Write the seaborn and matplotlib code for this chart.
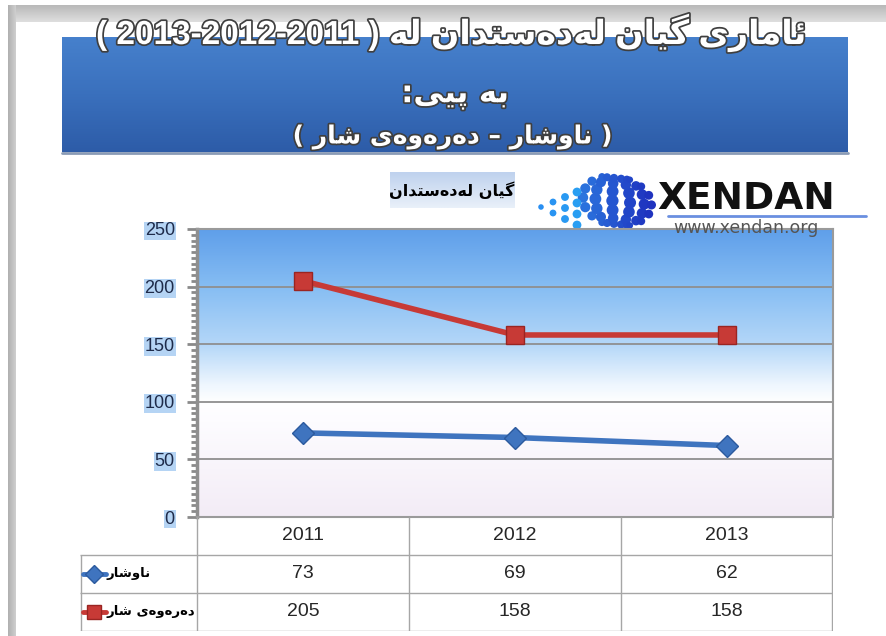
import numpy as np
import pandas as pd
import seaborn as sns
import matplotlib.pyplot as plt
from matplotlib import patheffects as pe
from matplotlib.colors import LinearSegmentedColormap
from matplotlib.ticker import MultipleLocator

# data
years = ['2011', '2012', '2013']
inside_city = [73, 69, 62]          # ناوشار
outside_city = [205, 158, 158]      # دەرەوەی شار
series_names = ['ناوشار', 'دەرەوەی شار']
series_colors = ['#3f74bf', '#c73a36']
series_edges = ['#2c5a9e', '#9a2522']
series_markers = ['D', 's']
y_ticks = [0, 50, 100, 150, 200, 250]

title_text = 'ئاماری گیان لەدەستدان لە'
title_years = '( 2013-2012-2011 )'
title_line2 = 'بە پێی:'
title_line3 = 'ناوشار – دەرەوەی شار'
subtitle = 'گیان لەدەستدان'

# matplotlib has no arabic shaping, so pick presentation forms by hand
# (isolated, final, initial, medial)
FORMS = {
    'ئ': ('\ufe89', '\ufe8a', '\ufe8b', '\ufe8c'),
    'ا': ('\ufe8d', '\ufe8e', None, None),
    'ب': ('\ufe8f', '\ufe90', '\ufe91', '\ufe92'),
    'پ': ('\ufb56', '\ufb57', '\ufb58', '\ufb59'),
    'ت': ('\ufe95', '\ufe96', '\ufe97', '\ufe98'),
    'د': ('\ufea9', '\ufeaa', None, None),
    'ر': ('\ufead', '\ufeae', None, None),
    'س': ('\ufeb1', '\ufeb2', '\ufeb3', '\ufeb4'),
    'ش': ('\ufeb5', '\ufeb6', '\ufeb7', '\ufeb8'),
    'گ': ('\ufb92', '\ufb93', '\ufb94', '\ufb95'),
    'ل': ('\ufedd', '\ufede', '\ufedf', '\ufee0'),
    'م': ('\ufee1', '\ufee2', '\ufee3', '\ufee4'),
    'ن': ('\ufee5', '\ufee6', '\ufee7', '\ufee8'),
    'و': ('\ufeed', '\ufeee', None, None),
    'ی': ('\ufbfc', '\ufbfd', '\ufbfe', '\ufbff'),
    'ێ': ('\ufbfc', '\ufbfd', '\ufbfe', '\ufbff'),  # no forms with the small v
    'ە': ('\ufee9', '\ufeea', None, None),
}
FORM_INDEX = {(0, 0): 0, (1, 0): 1, (0, 1): 2, (1, 1): 3}


def shape_word(word):
    out = []
    for i, ch in enumerate(word):
        f = FORMS.get(ch)
        if f is None:
            out.append(ch)
            continue
        prev = word[i - 1] if i > 0 else None
        nxt = word[i + 1] if i < len(word) - 1 else None
        jp = prev in FORMS and FORMS[prev][2] is not None
        jn = f[2] is not None and nxt in FORMS
        out.append(f[FORM_INDEX[(int(jp), int(jn))]])
    return ''.join(reversed(out))


def ar(text):
    return ' '.join(shape_word(w) for w in reversed(text.split(' ')))


sns.set_style('white')
plt.rcParams['font.family'] = ['DejaVu Sans']

fig = plt.figure(figsize=(8.87, 6.36), dpi=100)
W, H = 887, 636

# background layer in pixel coordinates for the slide decoration
bg = fig.add_axes([0, 0, 1, 1], zorder=-1)
bg.axis('off')

# top gray band and left bar of the slide frame
bg.imshow(np.linspace(0, 1, 20)[:, None],
          cmap=LinearSegmentedColormap.from_list('b', ['#b9b9b9', '#dedede']),
          extent=(8, W, 22, 5), aspect='auto', origin='upper')
bg.imshow(np.linspace(0, 1, 20)[None, :],
          cmap=LinearSegmentedColormap.from_list('l', ['#b0b0b0', '#cfcfcf']),
          extent=(8, 16, H, 5), aspect='auto', origin='upper')

# blue title banner
bg.imshow(np.linspace(0, 1, 50)[:, None],
          cmap=LinearSegmentedColormap.from_list('t', ['#4680cc', '#3a70bd', '#2d5ca8']),
          extent=(62, 848, 152, 37), aspect='auto', origin='upper')
bg.plot([62, 848], [153, 153], color='#8a9bb5', lw=2)

# subtitle box
bg.imshow(np.linspace(0, 1, 30)[:, None],
          cmap=LinearSegmentedColormap.from_list('s', ['#bfd2ee', '#e9f0f9']),
          extent=(390, 515, 208, 172), aspect='auto', origin='upper')

# logo: dotted globe with a tail of small dots to the lower left
for lon in range(-60, 81, 28):
    for lat in range(-66, 67, 22):
        la, lo = np.radians(lat), np.radians(lon)
        px = 615 + 37 * np.cos(la) * np.sin(lo)
        py = 201 - 25 * np.sin(la) + 4 * np.cos(la) * np.sin(lo)
        s = 70 * np.cos(la) * max(np.cos(lo), 0.25) ** 0.5 + 8
        t = min(1, max(0, (px - 540) / 108))
        bg.scatter(px, py, s=s, color=(0.12 * t + 0.2 * (1 - t), 0.2 * t + 0.62 * (1 - t),
                                       0.75 * t + 0.95 * (1 - t)), edgecolors='none')
for k in range(4):
    for j in range(4 - k if k < 3 else 1):
        px = 577 - k * 12
        py = 192 + j * 11 + k * 5
        bg.scatter(px, py, s=40 - k * 8, color=(0.16, 0.62 - 0.02 * k, 0.95),
                   edgecolors='none')

bg.text(657, 209, 'XENDAN', fontsize=27, fontweight='bold', color='#111111',
        ha='left', va='baseline')
bg.plot([668, 866], [216, 216], color='#6a8fe0', lw=2)
fig.text(673 / W, 1 - 228 / H, 'www.xendan.org', fontsize=12.5, color='#555555',
         ha='left', va='center', zorder=6)

bg.set_xlim(0, W)
bg.set_ylim(H, 0)

# title texts
stroke = [pe.withStroke(linewidth=2.5, foreground='#3f3f3f')]
bg.text(452, 33, title_years + ' ' + ar(title_text), fontsize=24, fontweight='bold',
        color='white', ha='center', va='center', family=['Liberation Sans', 'DejaVu Sans'],
        path_effects=stroke)
bg.text(455, 95, ar(title_line2), fontsize=22, fontweight='bold', color='white',
        ha='center', va='center', path_effects=stroke)
bg.text(453, 137, '( ' + ar(title_line3) + ' )', fontsize=18, fontweight='bold',
        color='white', ha='center', va='center', path_effects=stroke)
bg.text(452, 190, ar(subtitle), fontsize=11.5, fontweight='bold', color='black',
        ha='center', va='center')

# main plot
ax = fig.add_axes([197 / W, 119 / H, 636 / W, 288 / H])
grad = LinearSegmentedColormap.from_list('plot', [
    (0.0, '#f3ecf6'), (0.33, '#fdfcff'), (0.40, '#ffffff'), (0.46, '#eef6fe'),
    (0.60, '#b4d7f8'), (0.80, '#86bdf3'), (1.0, '#5f9fea')])
ax.imshow(np.linspace(1, 0, 256)[:, None], cmap=grad, extent=(-0.5, 2.5, 0, 250),
          aspect='auto', origin='upper', zorder=0)

df = pd.DataFrame({
    'x': [0, 1, 2] * 2,
    'value': inside_city + outside_city,
    'series': [series_names[0]] * 3 + [series_names[1]] * 3,
})
sns.lineplot(data=df, x='x', y='value', hue='series', style='series',
             palette=dict(zip(series_names, series_colors)),
             markers=dict(zip(series_names, series_markers)), dashes=False,
             lw=4, markersize=13, legend=False, ax=ax, zorder=3)
for line, ec, mk in zip(ax.lines, series_edges, series_markers):
    line.set_markeredgecolor(ec)
    line.set_markeredgewidth(1)
    if mk == 'D':
        line.set_markersize(11)

ax.set_xlim(-0.5, 2.5)
ax.set_ylim(0, 250)
ax.set_yticks(y_ticks)
ax.yaxis.set_minor_locator(MultipleLocator(5))
ax.set_xticks([])
ax.set_xlabel('')
ax.set_ylabel('')
ax.yaxis.grid(True, color='#8f8f8f', lw=1.3)
ax.tick_params(axis='y', which='major', left=True, direction='out', length=7, width=2,
               color='#8a8a8a', pad=9, labelsize=13, labelcolor='#1e2b4a')
ax.tick_params(axis='y', which='minor', left=True, direction='out', length=4, width=2,
               color='#8a8a8a')
for lbl in ax.get_yticklabels():
    lbl.set_family(['Liberation Sans Narrow', 'Liberation Sans', 'DejaVu Sans'])
    lbl.set_bbox(dict(facecolor='#b5d4f4', edgecolor='none', pad=0.6))
for side in ['top', 'right', 'bottom']:
    ax.spines[side].set_color('#9a9a9a')
    ax.spines[side].set_linewidth(1.5)
ax.spines['left'].set_color('#8f8f8f')
ax.spines['left'].set_linewidth(2.5)

# data table under the plot
tax = fig.add_axes([80 / W, 5 / H, 753 / W, 114 / H])
tax.set_xlim(-1.052, 2.5)
tax.set_ylim(3, 0)
tax.axis('off')
grid_col = '#a6a6a6'
tax.hlines([1, 2, 2.99], -1.05, 2.5, color=grid_col, lw=1)
tax.vlines([-0.5, 0.5, 1.5, 2.497], 0, 2.99, color=grid_col, lw=1)
tax.vlines([-1.048], 1, 2.99, color=grid_col, lw=1)
table_font = ['Liberation Sans Narrow', 'Liberation Sans', 'DejaVu Sans']
for i, yr in enumerate(years):
    tax.text(i, 0.5, yr, ha='center', va='center', fontsize=14, family=table_font)
for r, (vals, name, c, ec, mk) in enumerate(zip([inside_city, outside_city], series_names,
                                                series_colors, series_edges, series_markers)):
    for i, v in enumerate(vals):
        tax.text(i, r + 1.5, str(v), ha='center', va='center', fontsize=14, family=table_font)
    tax.plot([-1.04, -0.93], [r + 1.5, r + 1.5], color=c, lw=3.5)
    tax.plot([-0.985], [r + 1.5], marker=mk, color=c, mec=ec, ms=10 if mk == 's' else 9)
    tax.text(-0.925, r + 1.5, ar(name), ha='left', va='center', fontsize=9.5,
             fontweight='bold', color='black')

fig.savefig('out.png', dpi=100)
